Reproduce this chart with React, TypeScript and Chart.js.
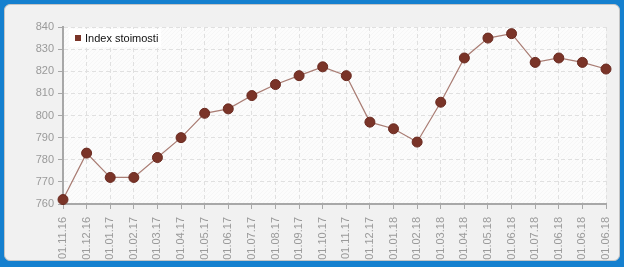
import React, { useEffect, useRef } from "react";
import { Chart, registerables } from "chart.js";

Chart.register(...registerables);

const categories = [
  "01.11.16", "01.12.16", "01.01.17", "01.02.17", "01.03.17", "01.04.17",
  "01.05.17", "01.06.17", "01.07.17", "01.08.17", "01.09.17", "01.10.17",
  "01.11.17", "01.12.17", "01.01.18", "01.02.18", "01.03.18", "01.04.18",
  "01.05.18", "01.06.18", "01.07.18", "01.06.18", "01.06.18", "01.06.18",
];
const seriesName = "Index stoimosti";
const seriesValues = [
  762, 783, 772, 772, 781, 790, 801, 803, 809, 814, 818, 822,
  818, 797, 794, 788, 806, 826, 835, 837, 824, 826, 824, 821,
];
const yMin = 760;
const yMax = 840;
const yStep = 10;

const FONT = "'Liberation Sans', Arial, sans-serif";

const bgPlugin = {
  id: "plotBg",
  beforeDraw(chart: any) {
    const { ctx, chartArea: a } = chart;
    ctx.save();
    ctx.fillStyle = "#fcfcfc";
    ctx.fillRect(a.left, a.top, a.right - a.left, a.bottom - a.top);
    ctx.beginPath();
    ctx.rect(a.left, a.top, a.right - a.left, a.bottom - a.top);
    ctx.clip();
    ctx.strokeStyle = "rgba(0,0,0,0.025)";
    ctx.lineWidth = 1;
    for (let x = a.left - (a.bottom - a.top); x < a.right; x += 4) {
      ctx.beginPath();
      ctx.moveTo(x, a.bottom);
      ctx.lineTo(x + (a.bottom - a.top), a.top);
      ctx.stroke();
    }
    ctx.restore();
  },
};

const legendPlugin = {
  id: "innerLegend",
  afterDatasetsDraw(chart: any) {
    const { ctx, chartArea: a } = chart;
    ctx.save();
    ctx.fillStyle = "#ffffff";
    ctx.fillRect(a.left + 6, a.top + 2, 92, 18);
    ctx.fillStyle = "#7a3428";
    ctx.fillRect(a.left + 12, a.top + 8, 6, 6);
    ctx.fillStyle = "#111111";
    ctx.font = `11px ${FONT}`;
    ctx.textBaseline = "middle";
    ctx.fillText(seriesName, a.left + 22, a.top + 11.5);
    ctx.restore();
  },
};

export default function App() {
  const ref = useRef<HTMLCanvasElement>(null);
  useEffect(() => {
    document.body.style.margin = "0";
    const chart = new Chart(ref.current!, {
      type: "line",
      data: {
        labels: categories,
        datasets: [
          {
            label: seriesName,
            data: seriesValues,
            borderColor: "rgba(160,110,100,0.9)",
            borderWidth: 1.2,
            pointBackgroundColor: "#7a3428",
            pointBorderColor: "#6a2a20",
            pointBorderWidth: 1,
            pointRadius: 5,
            tension: 0,
            clip: false as any,
          },
        ],
      },
      options: {
        animation: false,
        responsive: false,
        maintainAspectRatio: false,
        layout: { padding: { left: 8, top: 27, right: 18, bottom: 0 } },
        plugins: { legend: { display: false }, tooltip: { enabled: false } },
        scales: {
          x: {
            type: "category",
            offset: false,
            afterFit(s: any) { s.height = 63; s.paddingLeft = 0; s.paddingRight = 0; },
            grid: {
              color: "#e0e0e0",
              tickColor: "#a8a8a8",
              tickLength: 5,
              tickBorderDash: [],
            },
            border: { color: "#a8a8a8", width: 2, dash: [4, 3] },
            ticks: {
              color: "#9a9a9a",
              font: { family: FONT, size: 11 },
              maxRotation: 90,
              minRotation: 90,
              autoSkip: false,
              padding: 8,
            },
          },
          y: {
            min: yMin,
            max: yMax,
            afterFit(s: any) { s.width = 55; s.paddingTop = 0; s.paddingBottom = 0; },
            grid: { color: "#e0e0e0", tickColor: "#a8a8a8", tickLength: 5, tickBorderDash: [] },
            border: { color: "#a8a8a8", width: 2, dash: [4, 3] },
            ticks: {
              stepSize: yStep,
              color: "#9a9a9a",
              font: { family: FONT, size: 11 },
              padding: 4,
            },
          },
        },
      },
      plugins: [bgPlugin, legendPlugin],
    });
    return () => chart.destroy();
  }, []);

  return (
    <div style={{ position: "fixed", left: 0, top: 0, width: 624, height: 267, background: "#1580cf" }}>
      <div
        style={{
          position: "absolute",
          left: 4,
          top: 4,
          width: 614,
          height: 255,
          background: "#f1f1f1",
          border: "1px solid #c4c4c4",
          borderRadius: 6,
        }}
      />
      <canvas ref={ref} width={624} height={267} style={{ position: "absolute", left: 0, top: 0 }} />
    </div>
  );
}
